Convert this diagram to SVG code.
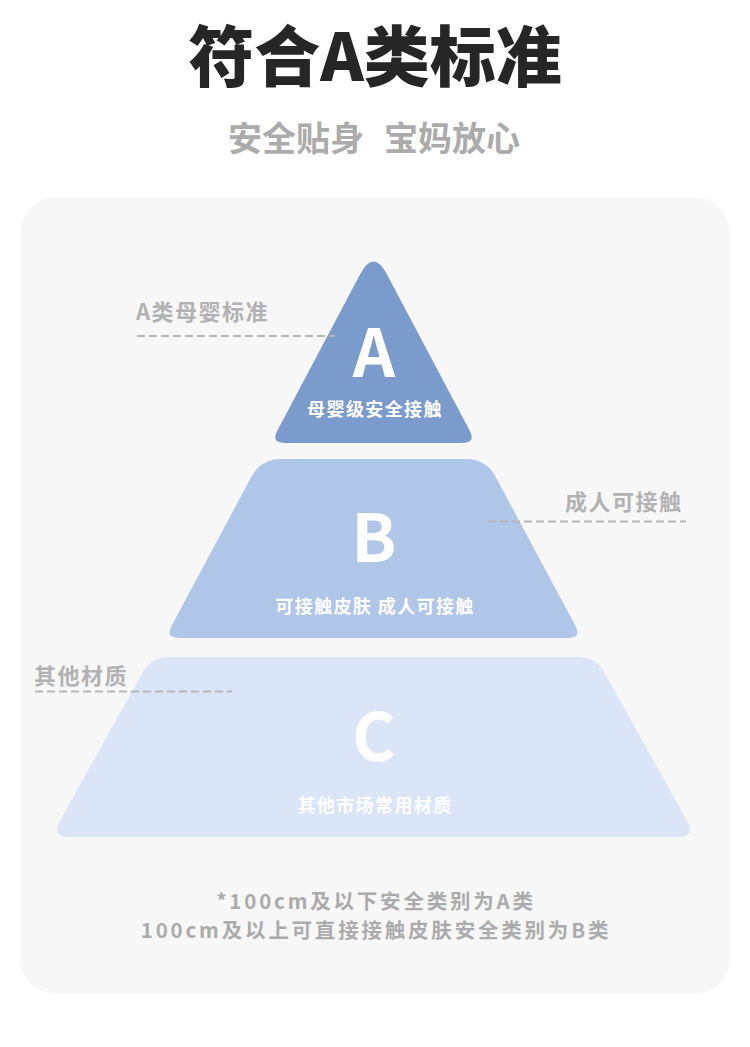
<svg xmlns="http://www.w3.org/2000/svg" width="750" height="1047" viewBox="0 0 750 1047">
<style>
.cjk{font-family:"Noto Sans CJK SC","Noto Sans",sans-serif;font-weight:700}
.title{font-size:66px;fill:#262626;font-weight:900;text-anchor:middle}
.sub{font-size:34px;fill:#ababab}
.side{font-size:22px;fill:#b2b2b2;letter-spacing:1.5px}
.big{font-size:66px;fill:#ffffff;text-anchor:middle}
.desc{font-size:18px;fill:#ffffff;text-anchor:middle;letter-spacing:1.4px}
.foot{font-size:20.5px;fill:#ababab;text-anchor:middle;letter-spacing:2.8px}
.dash{stroke:#b5b5b5;stroke-width:2;stroke-dasharray:8 4;fill:none}
</style>
<rect width="750" height="1047" fill="#ffffff"/>
<rect id="card" x="20" y="197" width="710" height="797" rx="36" fill="#f7f7f7"/>
<g id="header">
<text class="cjk title" x="375" y="81">符合A类标准</text>
<text class="cjk sub" x="228" y="151">安全贴身</text>
<text class="cjk sub" x="384" y="151">宝妈放心</text>
</g>
<g id="tier-c">
<path d="M142.3,672.7 Q151,657 169,657 L578,657 Q596,657 604.7,672.7 L687.3,821.3 Q696,837 678,837 L69,837 Q51,837 59.7,821.3 Z" fill="#dae6f8"/>
<text class="cjk big" x="374" y="761">C</text>
<text class="cjk desc" x="375" y="812">其他市场常用材质</text>
</g>
<g id="tier-b">
<path d="M251.5,476.6 Q261,459 281,459 L466,459 Q486,459 495.5,476.6 L575.4,625.7 Q582,638 568,638 L179,638 Q165,638 171.6,625.7 Z" fill="#afc6e8"/>
<text class="cjk big" x="374" y="562">B</text>
<text class="cjk desc" x="375" y="613">可接触皮肤 成人可接触</text>
</g>
<g id="tier-a">
<path d="M360.4,273.8 Q373.5,249 386.6,273.8 L469.6,430.6 Q476.2,443 462.2,443 L284.8,443 Q270.8,443 277.4,430.6 Z" fill="#7a9bcb"/>
<text class="cjk big" x="374" y="377">A</text>
<text class="cjk desc" x="375" y="416">母婴级安全接触</text>
</g>
<g id="label-a"><text class="cjk side" x="136" y="320">A类母婴标准</text></g>
<g id="label-b"><text class="cjk side" x="565" y="510">成人可接触</text></g>
<g id="label-c"><text class="cjk side" x="34" y="684">其他材质</text></g>
<g id="connectors">
<line class="dash" x1="137" y1="336" x2="335" y2="336"/>
<line class="dash" x1="488" y1="521.5" x2="686" y2="521.5"/>
<line class="dash" x1="35" y1="691.5" x2="232" y2="691.5"/>
</g>
<g id="footer">
<text class="cjk foot" x="376" y="909">*100cm及以下安全类别为A类</text>
<text class="cjk foot" x="376" y="938">100cm及以上可直接接触皮肤安全类别为B类</text>
</g>
</svg>
